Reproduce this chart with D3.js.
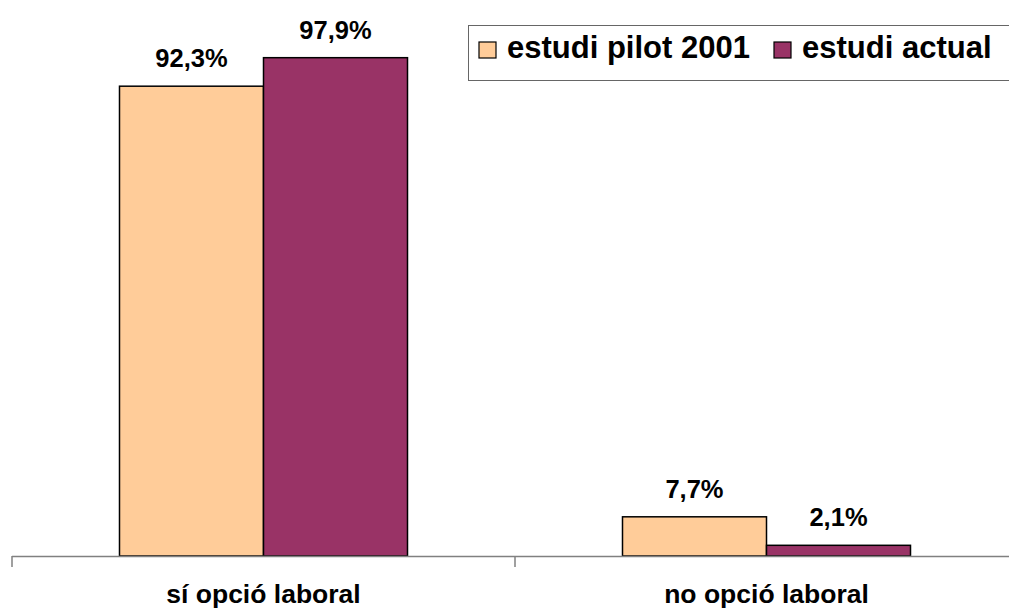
<!DOCTYPE html>
<html>
<head>
<meta charset="utf-8">
<script src="https://cdn.jsdelivr.net/npm/d3@7"></script>
<style>
  body { margin: 0; background: #fff; }
  text { font-family: "Liberation Sans", Arial, sans-serif; font-weight: bold; fill: #000; }
</style>
</head>
<body>
<div id="chart"></div>
<script>
var categories = ["sí opció laboral", "no opció laboral"];
var series = ["estudi pilot 2001", "estudi actual"];
var pilot2001 = [92.3, 7.7];
var actual = [97.9, 2.1];
var colors = ["#FFCC99", "#993366"];

var width = 1009, height = 608;
var baseY = 556, topY = 47;

var svg = d3.select("#chart").append("svg")
  .attr("width", width)
  .attr("height", height);

var x0 = d3.scaleBand()
  .domain(categories)
  .range([12, 1018])
  .padding(0);

var x1 = d3.scaleBand()
  .domain(series)
  .range([0, x0.bandwidth()])
  .paddingInner(0)
  .paddingOuter(0.7465);

var y = d3.scaleLinear()
  .domain([0, 100])
  .range([baseY, topY]);

var rows = categories.map(function(c, i) {
  return { cat: c, vals: [pilot2001[i], actual[i]] };
});

// bars
var groups = svg.selectAll(".grp")
  .data(rows)
  .enter().append("g")
  .attr("class", "grp")
  .attr("transform", function(d) { return "translate(" + x0(d.cat) + ",0)"; });

groups.selectAll("rect")
  .data(function(d) { return d.vals.map(function(v, j) { return { s: series[j], v: v, j: j }; }); })
  .enter().append("rect")
  .attr("x", function(d) { return x1(d.s); })
  .attr("y", function(d) { return y(d.v); })
  .attr("width", x1.bandwidth())
  .attr("height", function(d) { return baseY - y(d.v); })
  .attr("fill", function(d) { return colors[d.j]; })
  .attr("stroke", "#000")
  .attr("stroke-width", 1.5);

groups.selectAll(".val")
  .data(function(d) { return d.vals.map(function(v, j) { return { s: series[j], v: v }; }); })
  .enter().append("text")
  .attr("class", "val")
  .attr("x", function(d) { return x1(d.s) + x1.bandwidth() / 2; })
  .attr("y", function(d) { return y(d.v) - 19; })
  .attr("text-anchor", "middle")
  .attr("font-size", "25.5px")
  .text(function(d) { return d.v.toFixed(1).replace(".", ",") + "%"; });

// axis
var axis = svg.append("g");
axis.append("line")
  .attr("x1", 12).attr("x2", width)
  .attr("y1", baseY + 0.5).attr("y2", baseY + 0.5)
  .attr("stroke", "#808080").attr("stroke-width", 1.5);

axis.selectAll(".tick")
  .data(categories)
  .enter().append("line")
  .attr("x1", function(d) { return x0(d); })
  .attr("x2", function(d) { return x0(d); })
  .attr("y1", baseY).attr("y2", baseY + 11)
  .attr("stroke", "#808080").attr("stroke-width", 1.5);

axis.selectAll(".cat")
  .data(categories)
  .enter().append("text")
  .attr("class", "cat")
  .attr("x", function(d) { return x0(d) + x0.bandwidth() / 2; })
  .attr("y", 603)
  .attr("text-anchor", "middle")
  .attr("font-size", "26.5px")
  .text(function(d) { return d; });

// legend
var legend = svg.append("g");
legend.append("rect")
  .attr("x", 468.5).attr("y", 25.5)
  .attr("width", 560).attr("height", 55)
  .attr("fill", "#fff")
  .attr("stroke", "#666").attr("stroke-width", 1);

var legX = [479, 774];
var items = legend.selectAll(".item")
  .data(series)
  .enter().append("g")
  .attr("transform", function(d, i) { return "translate(" + legX[i] + ",0)"; });

items.append("rect")
  .attr("x", 0).attr("y", 42)
  .attr("width", 17).attr("height", 16)
  .attr("fill", function(d, i) { return colors[i]; })
  .attr("stroke", "#000").attr("stroke-width", 1.2);

items.append("text")
  .attr("x", 28).attr("y", 58)
  .attr("font-size", "31px")
  .text(function(d) { return d; });
</script>
</body>
</html>
